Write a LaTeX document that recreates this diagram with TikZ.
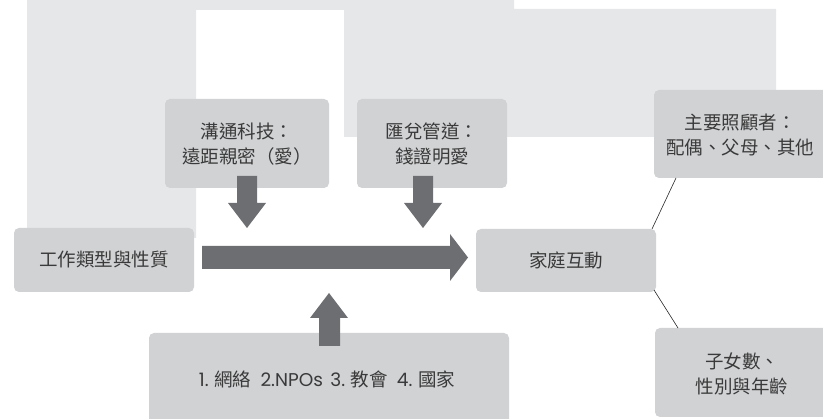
\documentclass[tikz,border=0pt]{standalone}
\usepackage{fontspec}
\setmainfont{Noto Sans CJK TC}
\newfontfamily\latinf{Poppins}
\usetikzlibrary{arrows.meta}
\definecolor{bgc}{HTML}{E6E7E8}
\definecolor{boxc}{HTML}{D1D2D4}
\definecolor{arrc}{HTML}{6D6E71}
\definecolor{txtc}{HTML}{3A3A3A}
\tikzset{
  box/.style={fill=boxc, rounded corners=5pt, draw=none},
  lbl/.style={text=txtc, font=\fontsize{18.5}{25}\selectfont, align=center, inner sep=0pt},
  fatarrow/.style={fill=arrc, draw=none},
  link/.style={draw=black!85, line width=0.6pt}
}
\begin{document}
\begin{tikzpicture}[x=1pt,y=-1pt]
\useasboundingbox (0,0) rectangle (823,419);
\clip (0,0) rectangle (823,419);
% background
\fill[bgc] (27,0) -- (514,0) -- (514,9) -- (776,9) -- (776,137) -- (344,137) -- (344,10) -- (196,10) -- (196,238) -- (27,238) -- cycle;
% boxes
\fill[box] (165,99) rectangle (329,188);
\fill[box] (357,99) rectangle (507,188);
\fill[box] (14,228) rectangle (194,292);
\fill[box] (476,229) rectangle (656,292);
\fill[box] (654,90) rectangle (830,178);
\fill[box] (655,328) rectangle (830,417);
\fill[box] (149,333) rectangle (509,425);
% nodes
\node[lbl] (tech) at (247,144) {溝通科技：\\遠距親密（愛）};
\node[lbl] (remit) at (432,144) {匯兌管道：\\錢證明愛};
\node[lbl] (work) at (104,260) {工作類型與性質};
\node[lbl] (family) at (566,260) {家庭互動};
\node[lbl] (carer) at (740,135) {主要照顧者：\\配偶、父母、其他};
\node[lbl] (kids) at (742,374) {子女數、\\性別與年齡};
\node[lbl] (support) at (327,379) {{\latinf 1.} 網絡\hspace{0.5em}{\latinf 2.NPOs\hspace{0.4em}3.} 教會\hspace{0.5em}{\latinf 4.} 國家};
% coordinates
\coordinate (famTR) at (652,229);
\coordinate (famBR) at (654,290);
\coordinate (carBL) at (676,178);
\coordinate (kidBL) at (678,328);
% arrows
\fill[fatarrow] (202,246) -- (450,246) -- (450,234) -- (468,257.5) -- (450,281) -- (450,269) -- (202,269) -- cycle;
\fill[fatarrow] (237,176) -- (257,176) -- (257,203) -- (266,203) -- (247,228) -- (228,203) -- (237,203) -- cycle;
\fill[fatarrow] (413,176) -- (433,176) -- (433,203) -- (442,203) -- (423,228) -- (404,203) -- (413,203) -- cycle;
\fill[fatarrow] (319,346) -- (340,346) -- (340,318) -- (348,318) -- (329,293) -- (310,318) -- (319,318) -- cycle;
% links
\draw[link] (famTR) -- (carBL);
\draw[link] (famBR) -- (kidBL);
\end{tikzpicture}
\end{document}
